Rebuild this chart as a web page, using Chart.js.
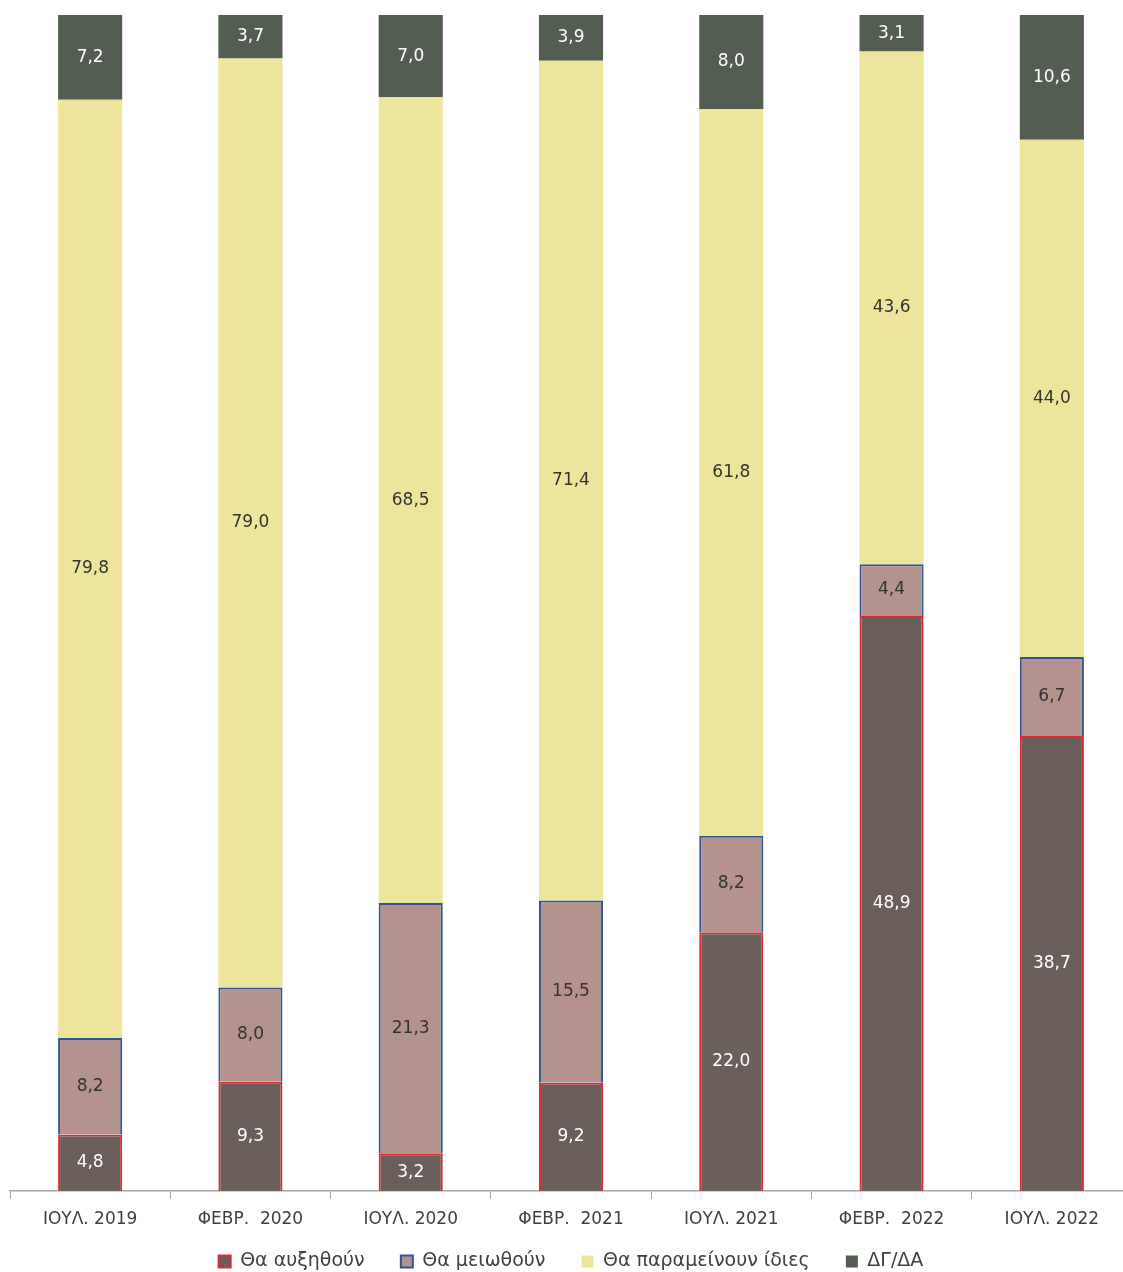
<!DOCTYPE html>
<html><head><meta charset="utf-8">
<script src="https://cdn.jsdelivr.net/npm/chart.js@4.4.0/dist/chart.umd.min.js"></script>
<style>html,body{margin:0;padding:0;background:#fff;overflow:hidden}#wrap{width:1132px;height:1281px}</style>
</head><body><div id="wrap"><canvas id="c"></canvas></div>
<script>
const categories = ["ΙΟΥΛ. 2019","ΦΕΒΡ.  2020","ΙΟΥΛ. 2020","ΦΕΒΡ.  2021","ΙΟΥΛ. 2021","ΦΕΒΡ.  2022","ΙΟΥΛ. 2022"];
const seriesNames = ["Θα αυξηθούν","Θα μειωθούν","Θα παραμείνουν ίδιες","ΔΓ/ΔΑ"];
const increase = [4.8, 9.3, 3.2, 9.2, 22.0, 48.9, 38.7];
const decrease = [8.2, 8.0, 21.3, 15.5, 8.2, 4.4, 6.7];
const same = [79.8, 79.0, 68.5, 71.4, 61.8, 43.6, 44.0];
const dkna = [7.2, 3.7, 7.0, 3.9, 8.0, 3.1, 10.6];

const FONT = "'DejaVu Sans', sans-serif";
const labelPlugin = {
  id: 'segLabels',
  afterDatasetsDraw(chart) {
    const ctx = chart.ctx;
    ctx.save();
    ctx.font = "17px " + FONT;
    ctx.textAlign = 'center';
    ctx.textBaseline = 'middle';
    chart.data.datasets.forEach((ds, i) => {
      const meta = chart.getDatasetMeta(i);
      meta.data.forEach((bar, j) => {
        const v = ds.data[j];
        const y = (bar.y + bar.base) / 2;
        ctx.fillStyle = ds.labelColor;
        ctx.fillText(v.toFixed(1).replace('.', ','), bar.x, y);
      });
    });
    ctx.restore();
  }
};

new Chart(document.getElementById('c'), {
  type: 'bar',
  data: {
    labels: categories,
    datasets: [
      {label: seriesNames[0], data: increase, backgroundColor: '#6B5F5C', borderColor: '#DD2A30', borderWidth: 2, labelColor: '#ffffff'},
      {label: seriesNames[1], data: decrease, backgroundColor: '#B4928D', borderColor: '#2F5597', borderWidth: 2, labelColor: '#333333'},
      {label: seriesNames[2], data: same, backgroundColor: '#EDE59B', borderWidth: 0, labelColor: '#333333'},
      {label: seriesNames[3], data: dkna, backgroundColor: '#545D52', borderWidth: 0, labelColor: '#ffffff'}
    ]
  },
  options: {
    responsive: true,
    maintainAspectRatio: false,
    animation: false,
    datasets: { bar: { categoryPercentage: 0.8, barPercentage: 0.5 } },
    layout: { padding: { top: 15, left: 10, right: 0, bottom: 0 } },
    scales: {
      x: {
        stacked: true,
        afterFit(scale) { scale.height = 49; },
        grid: { display: true, drawOnChartArea: false, drawTicks: true, tickLength: 8, color: '#A6A6A6', offset: true },
        border: { display: true, color: '#A6A6A6', width: 1.5 },
        ticks: { color: '#404040', font: { size: 17, family: FONT }, padding: 10, maxRotation: 0 }
      },
      y: { stacked: true, display: false, min: 0, max: 100 }
    },
    plugins: {
      legend: {
        position: 'bottom',
        labels: {
          boxWidth: 12, boxHeight: 12, color: '#404040', font: { size: 19, family: FONT }, padding: 12,
          generateLabels(chart) {
            const items = Chart.defaults.plugins.legend.labels.generateLabels(chart);
            items.forEach((it, i) => { if (i < items.length - 1) it.text = it.text + '    '; });
            return items;
          }
        }
      },
      tooltip: { enabled: false }
    }
  },
  plugins: [labelPlugin]
});
</script></body></html>
